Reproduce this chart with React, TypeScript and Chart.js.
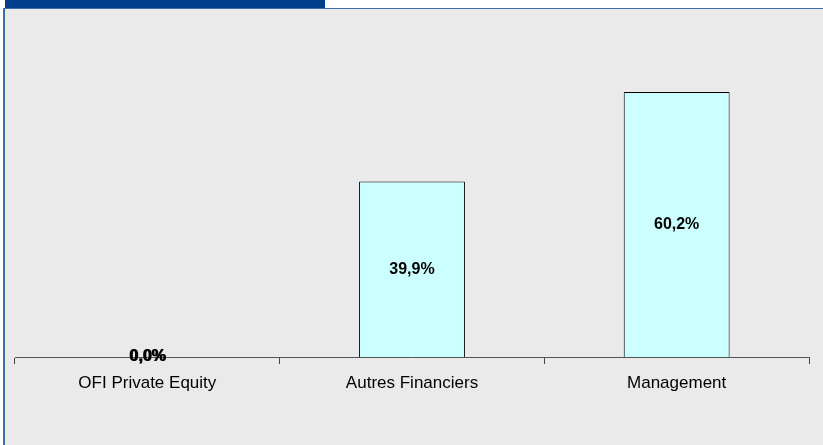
import React, { useEffect, useRef } from "react";
import { Chart, registerables } from "chart.js";

Chart.register(...registerables);

const categories: string[] = ["OFI Private Equity", "Autres Financiers", "Management"];
const shares: number[] = [0.0, 39.9, 60.2];
const yMax = 70;

const FONT = "'Liberation Sans Narrow', 'Arial Narrow', 'Liberation Sans', Arial, sans-serif";

const fmt = (v: number) => v.toFixed(1).replace(".", ",") + "%";

const valueLabels = {
  id: "valueLabels",
  afterDatasetsDraw(chart: any) {
    const ctx = chart.ctx as CanvasRenderingContext2D;
    const meta = chart.getDatasetMeta(0);
    const data = chart.data.datasets[0].data as number[];
    ctx.save();
    ctx.fillStyle = "#000";
    ctx.textAlign = "center";
    ctx.textBaseline = "middle";
    meta.data.forEach((bar: any, i: number) => {
      const v = data[i];
      const y = (bar.y + bar.base) / 2;
      ctx.font = `bold 16px ${FONT}`;
      ctx.fillText(fmt(v), bar.x, y);
      if (v === 0) {
        ctx.fillText(fmt(v), bar.x + 1, y);
      }
    });
    ctx.restore();
  },
};

export default function App() {
  const ref = useRef<HTMLCanvasElement | null>(null);

  useEffect(() => {
    if (!ref.current) return;
    const chart = new Chart(ref.current, {
      type: "bar",
      data: {
        labels: categories,
        datasets: [
          {
            data: shares,
            backgroundColor: "#CCFFFF",
            borderColor: "#000000",
            borderWidth: 1,
            barPercentage: 0.4,
            categoryPercentage: 1,
          },
        ],
      },
      options: {
        animation: false,
        responsive: false,
        devicePixelRatio: 1,
        layout: { padding: { left: 15, right: 14, top: 49, bottom: 28 } },
        plugins: {
          legend: { display: false },
          tooltip: { enabled: false },
        },
        scales: {
          x: {
            afterFit: (scale: any) => {
              scale.height = 60;
            },
            grid: {
              display: true,
              drawOnChartArea: false,
              drawTicks: true,
              tickLength: 7,
              color: "#444",
              offset: true,
            },
            border: { display: true, color: "#555", width: 1 },
            ticks: {
              color: "#000",
              padding: 9,
              font: { family: FONT, size: 17 },
            },
          },
          y: {
            display: false,
            min: 0,
            max: yMax,
          },
        },
      },
      plugins: [valueLabels],
    });
    return () => chart.destroy();
  }, []);

  return (
    <div style={{ position: "fixed", left: 0, top: 0, width: 823, height: 445, background: "#fff", overflow: "hidden" }}>
      <div style={{ position: "absolute", left: 5, top: 0, width: 320, height: 8, background: "#00408A" }} />
      <div
        style={{
          position: "absolute",
          left: 3,
          top: 8,
          width: 820,
          height: 437,
          background: "#EAEAEA",
          borderLeft: "2px solid #3D6FB0",
          borderTop: "1px solid #3D6FB0",
          boxSizing: "border-box",
        }}
      />
      <canvas ref={ref} width={823} height={445} style={{ position: "absolute", left: 0, top: 0, width: 823, height: 445 }} />
    </div>
  );
}
